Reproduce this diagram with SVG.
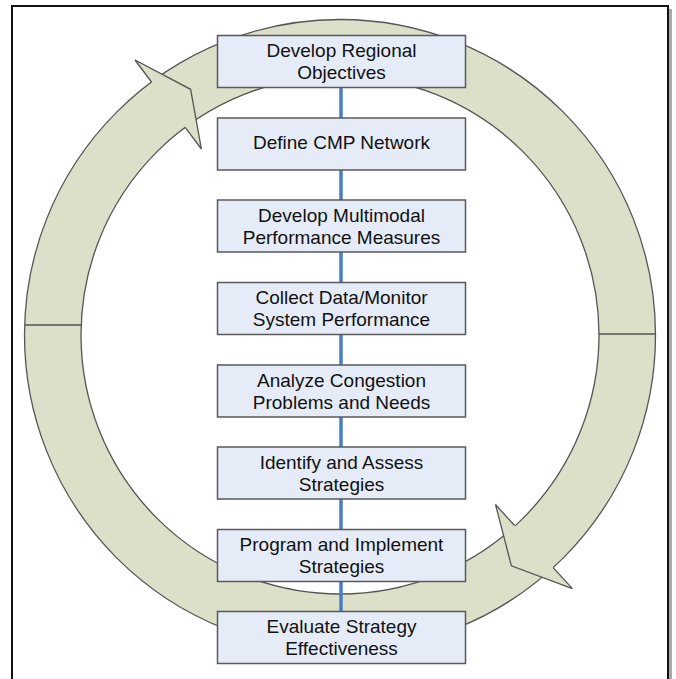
<svg xmlns="http://www.w3.org/2000/svg" width="676" height="679" viewBox="0 0 676 679">
<style>
.ring{fill:#dde0c8;stroke:#555;stroke-width:1.3;fill-rule:evenodd}
.head{fill:#dde0c8;stroke:none}
.edge{fill:none;stroke:#555;stroke-width:1.3;stroke-linejoin:miter}
.box{fill:#e6ecf7;stroke:#595959;stroke-width:1.5}
.lbl{font-family:"Liberation Sans",Arial,sans-serif;font-size:19px;fill:#111;text-anchor:middle}
.conn{stroke:#4a7ec4;stroke-width:3.5}
</style>
<rect x="15" y="9" width="657" height="700" fill="#aaaaaa"/>
<rect x="12" y="6" width="656" height="700" fill="#ffffff" stroke="#111" stroke-width="2"/>
<g id="cycle">
<path class="ring" d="M24.5,335 A315.5,315.5 0 1,1 655.5,335 A315.5,315.5 0 1,1 24.5,335 Z M81,335 A259,259 0 1,0 599,335 A259,259 0 1,0 81,335 Z"/>
<line class="edge" x1="24.7" y1="325" x2="81.2" y2="325"/>
<line class="edge" x1="599" y1="334" x2="655.5" y2="334"/>
<polygon class="head" points="135,60 190.6,89.3 201.4,149"/>
<polyline class="edge" points="151.5,82 135,60 190.6,89.3 201.4,149 185.2,127.3"/>
<polygon class="head" points="495.5,504.5 511.4,565.8 572.4,588.6"/>
<polyline class="edge" points="514.5,525.5 495.5,504.5 511.4,565.8 572.4,588.6 553.1,567.6"/>
</g>
<g id="connectors">
<line class="conn" x1="341" y1="87.5" x2="341" y2="118"/>
<line class="conn" x1="341" y1="170" x2="341" y2="200"/>
<line class="conn" x1="341" y1="252" x2="341" y2="282.5"/>
<line class="conn" x1="341" y1="334.5" x2="341" y2="365"/>
<line class="conn" x1="341" y1="417" x2="341" y2="447"/>
<line class="conn" x1="341" y1="499" x2="341" y2="529.5"/>
<line class="conn" x1="341" y1="581.5" x2="341" y2="611.5"/>
</g>
<g id="n1"><rect class="box" x="217.5" y="35.5" width="248" height="52"/><text class="lbl" x="341.5" y="57.2">Develop Regional</text><text class="lbl" x="341.5" y="79.3">Objectives</text></g>
<g id="n2"><rect class="box" x="217.5" y="118" width="248" height="52"/><text class="lbl" x="341.5" y="149.3">Define CMP Network</text></g>
<g id="n3"><rect class="box" x="217.5" y="200" width="248" height="52"/><text class="lbl" x="341.5" y="221.7">Develop Multimodal</text><text class="lbl" x="341.5" y="243.8">Performance Measures</text></g>
<g id="n4"><rect class="box" x="217.5" y="282.5" width="248" height="52"/><text class="lbl" x="341.5" y="304.2">Collect Data/Monitor</text><text class="lbl" x="341.5" y="326.3">System Performance</text></g>
<g id="n5"><rect class="box" x="217.5" y="365" width="248" height="52"/><text class="lbl" x="341.5" y="386.7">Analyze Congestion</text><text class="lbl" x="341.5" y="408.8">Problems and Needs</text></g>
<g id="n6"><rect class="box" x="217.5" y="447" width="248" height="52"/><text class="lbl" x="341.5" y="468.7">Identify and Assess</text><text class="lbl" x="341.5" y="490.8">Strategies</text></g>
<g id="n7"><rect class="box" x="217.5" y="529.5" width="248" height="52"/><text class="lbl" x="341.5" y="551.2">Program and Implement</text><text class="lbl" x="341.5" y="573.3">Strategies</text></g>
<g id="n8"><rect class="box" x="217.5" y="611.5" width="248" height="52"/><text class="lbl" x="341.5" y="633.2">Evaluate Strategy</text><text class="lbl" x="341.5" y="655.3">Effectiveness</text></g>
</svg>
